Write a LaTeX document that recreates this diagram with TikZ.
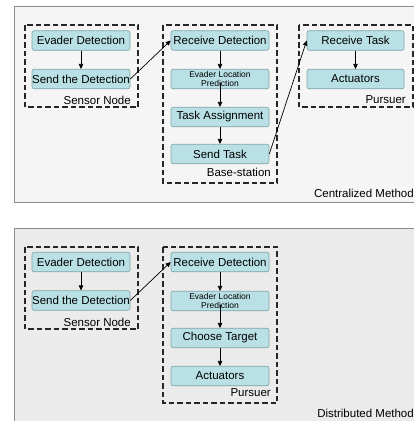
\documentclass[tikz,border=0pt]{standalone}
\usepackage{fontspec}
\setmainfont{Liberation Sans}
\usetikzlibrary{arrows.meta}
\definecolor{boxfill}{HTML}{B9E1E5}
\definecolor{boxline}{HTML}{7FA3A6}
\definecolor{panelA}{HTML}{F5F5F5}
\definecolor{panelB}{HTML}{EBEBEB}
\definecolor{panelline}{HTML}{8C8C8C}
\tikzset{
  stepbox/.style={draw=boxline, fill=boxfill, rounded corners=2pt, line width=0.6pt,
    minimum width=98pt, minimum height=19.5pt, inner sep=0pt, font=\fontsize{11.5}{13}\selectfont},
  smallbox/.style={stepbox, font=\fontsize{8.5}{9}\selectfont, align=center},
  dashbox/.style={draw=black!85, line width=1.1pt, dash pattern=on 5.5pt off 3pt},
  grouplabel/.style={anchor=east, inner sep=0pt, font=\fontsize{11.5}{13}\selectfont},
  flow/.style={-{Triangle[length=5pt,width=4.5pt]}, line width=0.7pt, black},
  panel/.style={draw=panelline, line width=0.8pt}
}
\begin{document}
\begin{tikzpicture}[x=1pt,y=-1pt]
\useasboundingbox (0,0) rectangle (414,421);
\fill[white] (0,0) rectangle (414,421);
% panels
\draw[panel, fill=panelA] (14,6) rectangle (420,202);
\draw[panel, fill=panelB] (14,228) rectangle (420,425);

% ---------- Centralized ----------
\draw[dashbox] (25,25) rectangle (138,107);
\draw[dashbox] (163,25) rectangle (277,183);
\draw[dashbox] (299,25) rectangle (413,107);

\node[stepbox] (ed1) at (81,40.5) {Evader Detection};
\node[stepbox] (sd1) at (81,79) {Send the Detection};
\node[grouplabel] (sn1) at (131,100) {Sensor Node};

\node[stepbox] (rd1) at (220,40.5) {Receive Detection};
\node[smallbox] (elp1) at (220,79) {Evader Location\\Prediction};
\node[stepbox] (ta1) at (220,117) {Task Assignment};
\node[stepbox] (st1) at (220,154) {Send Task};
\node[grouplabel] (bs1) at (271,172) {Base-station};

\node[stepbox, minimum width=97pt] (rt1) at (355.5,40.5) {Receive Task};
\node[stepbox, minimum width=97pt] (ac1) at (355.5,79) {Actuators};
\node[grouplabel] (pu1) at (406,100) {Pursuer};

\node[grouplabel] (cm) at (414,193) {Centralized Method};

\draw[flow] (ed1) -- (sd1);
\draw[flow] (rd1) -- (elp1);
\draw[flow] ([yshift=6pt]elp1.south) -- (ta1);
\draw[flow] (ta1) -- (st1);
\draw[flow] (rt1) -- (ac1);
\draw[flow] (sd1.east) -- (rd1.west);
\draw[flow] (st1.east) -- (rt1.west);

% ---------- Distributed ----------
\draw[dashbox] (25,247) rectangle (138,329);
\draw[dashbox] (163,247) rectangle (277,403);

\node[stepbox] (ed2) at (81,262) {Evader Detection};
\node[stepbox] (sd2) at (81,300.5) {Send the Detection};
\node[grouplabel] (sn2) at (131,322) {Sensor Node};

\node[stepbox] (rd2) at (220,262) {Receive Detection};
\node[smallbox] (elp2) at (220,301) {Evader Location\\Prediction};
\node[stepbox] (ct2) at (220,338) {Choose Target};
\node[stepbox] (ac2) at (220,376) {Actuators};
\node[grouplabel] (pu2) at (271,393) {Pursuer};

\node[grouplabel] (dm) at (414,413) {Distributed Method};

\draw[flow] (ed2) -- (sd2);
\draw[flow] (rd2) -- (elp2);
\draw[flow] ([yshift=6pt]elp2.south) -- (ct2);
\draw[flow] (ct2) -- (ac2);
\draw[flow] (sd2.east) -- (rd2.west);
\end{tikzpicture}
\end{document}
